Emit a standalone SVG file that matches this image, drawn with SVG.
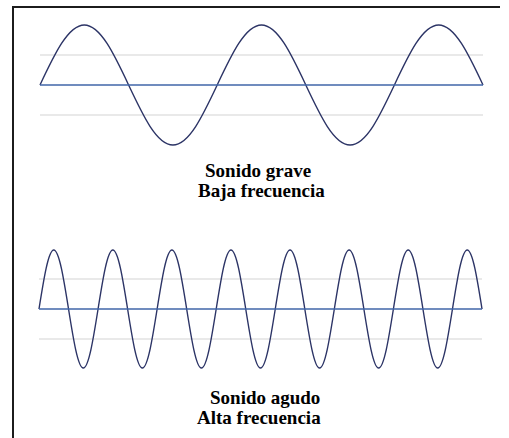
<svg xmlns="http://www.w3.org/2000/svg" width="509" height="438" viewBox="0 0 509 438">
<rect width="509" height="438" fill="#fff"/>
<g id="frame" stroke="#1c1c1c" stroke-width="2" fill="none">
<line x1="13" y1="6" x2="13" y2="438"/>
<line x1="12" y1="7" x2="500" y2="7"/>
</g>
<g id="low-frequency" fill="none">
<line stroke="#d4d4d4" stroke-width="1.2" x1="40" y1="55" x2="483" y2="55"/>
<line stroke="#d4d4d4" stroke-width="1.2" x1="40" y1="115" x2="483" y2="115"/>
<path stroke="#2c3466" stroke-width="1.4" d="M40,85 c14.455,-30.75 28.268,-60 44.3,-60 s29.845,29.25 44.3,60 s28.268,60 44.3,60 s29.845,-29.25 44.3,-60 s28.268,-60 44.3,-60 s29.845,29.25 44.3,60 s28.268,60 44.3,60 s29.845,-29.25 44.3,-60 s28.268,-60 44.3,-60 s29.845,29.25 44.3,60"/>
<line stroke="#4066a8" stroke-width="1.5" x1="40" y1="85" x2="483" y2="85"/>
</g>
<g id="high-frequency" fill="none">
<line stroke="#d4d4d4" stroke-width="1.2" x1="39" y1="279" x2="482" y2="279"/>
<line stroke="#d4d4d4" stroke-width="1.2" x1="39" y1="339" x2="482" y2="339"/>
<path stroke="#2c3466" stroke-width="1.4" d="M39,309 c4.818,-30.24 9.423,-59 14.767,-59 s9.948,28.76 14.767,59 s9.423,59 14.767,59 s9.948,-28.76 14.767,-59 s9.423,-59 14.767,-59 s9.948,28.76 14.767,59 s9.423,59 14.767,59 s9.948,-28.76 14.767,-59 s9.423,-59 14.767,-59 s9.948,28.76 14.767,59 s9.423,59 14.767,59 s9.948,-28.76 14.767,-59 s9.423,-59 14.767,-59 s9.948,28.76 14.767,59 s9.423,59 14.767,59 s9.948,-28.76 14.767,-59 s9.423,-59 14.767,-59 s9.948,28.76 14.767,59 s9.423,59 14.767,59 s9.948,-28.76 14.767,-59 s9.423,-59 14.767,-59 s9.948,28.76 14.767,59 s9.423,59 14.767,59 s9.948,-28.76 14.767,-59 s9.423,-59 14.767,-59 s9.948,28.76 14.767,59 s9.423,59 14.767,59 s9.948,-28.76 14.767,-59 s9.423,-59 14.767,-59 s9.948,28.76 14.767,59"/>
<line stroke="#4066a8" stroke-width="1.5" x1="39" y1="309" x2="482" y2="309"/>
</g>
<text x="205" y="177" font-family="Liberation Serif" font-weight="bold" font-size="19">Sonido grave</text>
<text x="198" y="197" font-family="Liberation Serif" font-weight="bold" font-size="19">Baja frecuencia</text>
<text x="210" y="404" font-family="Liberation Serif" font-weight="bold" font-size="19">Sonido agudo</text>
<text x="197" y="424" font-family="Liberation Serif" font-weight="bold" font-size="19">Alta frecuencia</text>
</svg>
